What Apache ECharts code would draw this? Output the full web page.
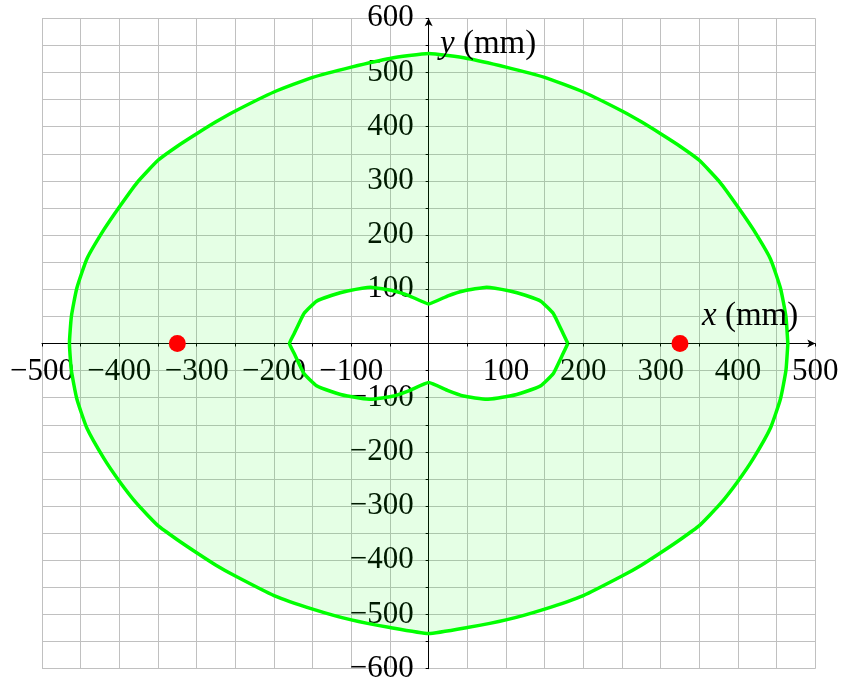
<!DOCTYPE html>
<html><head><meta charset="utf-8">
<script src="https://cdn.jsdelivr.net/npm/echarts@6/dist/echarts.min.js"></script>
<style>html,body{margin:0;padding:0;background:#fff}#c{width:841px;height:684px}</style>
</head><body><div id="c"></div>
<script>
// Outer boundary (mm), counter-clockwise from the right
const outerX = [464.5, 462, 455, 442, 420, 400, 377, 350, 325, 300, 275, 250, 200, 150, 100, 50, 0,
  -50, -100, -150, -200, -250, -275, -300, -325, -350, -377, -400, -420, -442, -455, -462, -464.5,
  -462, -455, -442, -420, -400, -377, -350, -325, -300, -275, -250, -200, -150, -100, -50, 0,
  50, 100, 150, 200, 250, 275, 300, 325, 350, 377, 400, 420, 442, 455, 462, 464.5];
const outerY = [0, 50, 102, 156, 210, 252, 297, 338, 364, 387, 409, 429, 464, 491, 510, 526, 535,
  526, 510, 491, 464, 429, 409, 387, 364, 338, 297, 252, 210, 156, 102, 50, 0,
  -50, -102, -156, -212, -254, -296, -336, -362, -386, -409, -429, -465, -490, -510, -524, -535,
  -524, -510, -490, -465, -429, -409, -386, -362, -336, -296, -254, -212, -156, -102, -50, 0];

// Inner boundary (mm), counter-clockwise from the right
const innerX = [180, 174, 161, 145, 125, 105, 75, 45, 25, 0, -25, -45, -75, -105, -125, -145, -161, -174, -180,
  -174, -161, -145, -125, -105, -75, -45, -25, 0, 25, 45, 75, 105, 125, 145, 161, 174, 180];
const innerY = [0, 18, 56, 78, 89, 97, 104, 97, 88, 73, 88, 97, 104, 97, 89, 78, 56, 18, 0,
  -18, -56, -78, -89, -97, -103, -97, -87, -72, -87, -97, -103, -97, -89, -78, -56, -18, 0];

// Red points
const dotsX = [-325, 325];
const dotsY = [0, 0];

const xMin = -500, xMax = 500, yMin = -600, yMax = 600;
const gridStep = 50, labelStep = 100;
const xName = ['x', ' (mm)'];
const yName = ['y', ' (mm)'];

const FONT = 'Liberation Serif';
const FS = 31;
const NFS = 33;

const G = {left: 42, right: 25.7, top: 18.3, bottom: 15.3};
const W = 841, H = 684;
const gw = W - G.left - G.right, gh = H - G.top - G.bottom;
// move axes (line + labels) to the zero crossing
const xOffset = -gh * (0 - yMin) / (yMax - yMin);
const yOffset = -gw * (0 - xMin) / (xMax - xMin);

function fmt(v) {
  if (v === 0 || v % labelStep !== 0) return '';
  return String(v).replace('-', '\u2212');
}

const outerPts = outerX.map((x, i) => [x, outerY[i]]);
const innerPts = innerX.map((x, i) => [x, innerY[i]]);

const chart = echarts.init(document.getElementById('c'), null, {renderer: 'canvas'});

const axisCommon = {
  type: 'value',
  interval: gridStep,
  axisLine: {onZero: false, lineStyle: {color: '#000', width: 1}, symbol: ['none', 'arrow'], symbolSize: [6, 8]},
  axisTick: {show: true, length: 3, lineStyle: {color: '#000', width: 1}},
  splitLine: {show: true, lineStyle: {color: '#c0c0c0', width: 1}},
  axisLabel: {formatter: fmt, fontFamily: FONT, fontSize: FS, color: '#000', showMinLabel: true, showMaxLabel: true}
};

chart.setOption({
  animation: false,
  backgroundColor: '#fff',
  grid: Object.assign({outerBoundsMode: 'none'}, G),
  xAxis: Object.assign({}, axisCommon, {min: xMin, max: xMax, position: 'bottom', offset: xOffset,
    axisLabel: Object.assign({}, axisCommon.axisLabel, {margin: 13})}),
  yAxis: Object.assign({}, axisCommon, {min: yMin, max: yMax, position: 'left', offset: yOffset,
    axisLabel: Object.assign({}, axisCommon.axisLabel, {margin: 15})}),
  graphic: [
    {type: 'text', x: 440, y: 44, z: 10, style: {text: '{i|' + yName[0] + '}' + yName[1], fontFamily: FONT, fontSize: NFS, fill: '#000', verticalAlign: 'middle', align: 'left',
      rich: {i: {fontStyle: 'italic', fontFamily: FONT, fontSize: NFS, fill: '#000'}}}},
    {type: 'text', x: 702, y: 316, z: 10, style: {text: '{i|' + xName[0] + '}' + xName[1], fontFamily: FONT, fontSize: NFS, fill: '#000', verticalAlign: 'middle', align: 'left',
      rich: {i: {fontStyle: 'italic', fontFamily: FONT, fontSize: NFS, fill: '#000'}}}}
  ],
  series: [
    {
      type: 'custom', silent: true, z: 1, data: [[0, 0]],
      renderItem: function (params, api) {
        const pts = [];
        outerPts.forEach(p => pts.push(api.coord(p)));
        pts.push(api.coord(outerPts[0]));
        const inv = innerPts.slice().reverse();
        inv.forEach(p => pts.push(api.coord(p)));
        return {type: 'polygon', shape: {points: pts}, style: {fill: 'rgba(0,255,0,0.1)', stroke: null, lineWidth: 0}};
      }
    },
    {type: 'line', z: 3, data: outerPts.concat([outerPts[0]]), showSymbol: false, symbol: 'none', silent: true, smooth: 0.15,
      lineStyle: {color: '#00ff00', width: 3.5, join: 'round'}},
    {type: 'line', z: 3, data: innerPts.concat([innerPts[0]]), showSymbol: false, symbol: 'none', silent: true, smooth: 0.12,
      lineStyle: {color: '#00ff00', width: 3.5, join: 'round'}},
    {type: 'scatter', z: 4, data: dotsX.map((x, i) => [x, dotsY[i]]), symbolSize: 17, silent: true,
      itemStyle: {color: '#ff0000', opacity: 1}}
  ]
});
</script>
</body></html>
